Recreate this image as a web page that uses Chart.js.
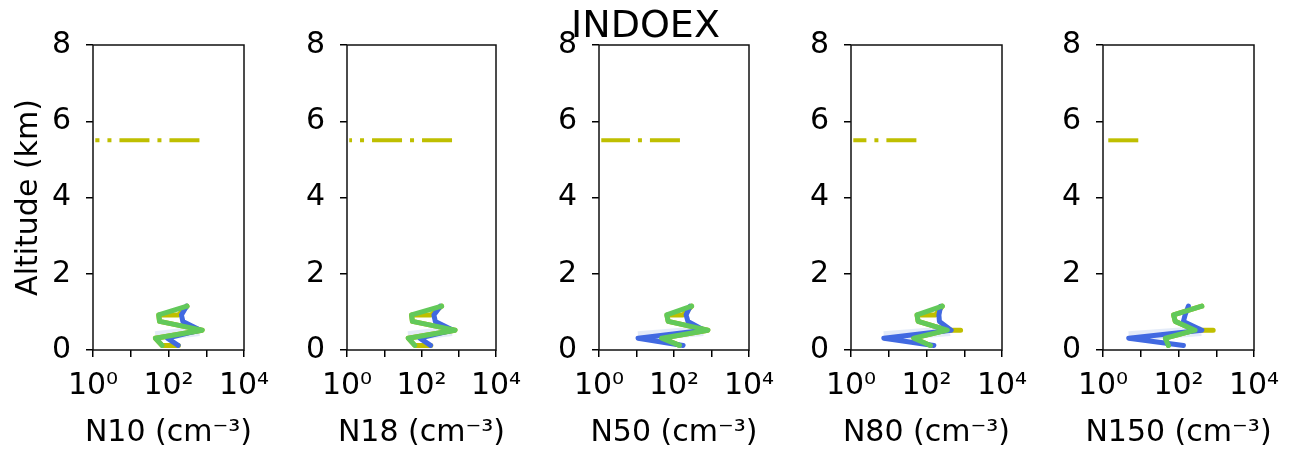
<!DOCTYPE html>
<html><head><meta charset="utf-8">
<script src="https://cdn.jsdelivr.net/npm/chart.js@4.4.1/dist/chart.umd.min.js"></script>
<style>
html,body{margin:0;padding:0;background:#fff;}
#wrap{position:relative;width:1291px;height:453px;overflow:hidden;background:#fff;}
#title{position:absolute;left:0;width:1291px;top:5px;text-align:center;font-family:"DejaVu Sans";font-size:38px;line-height:38px;color:#000;z-index:5;}
.xt{position:absolute;top:413px;width:300px;text-align:center;font-family:"DejaVu Sans";font-size:30px;line-height:36px;color:#000;white-space:nowrap;}
canvas{position:absolute;top:0;}
</style></head><body>
<div id="wrap"><div id="title">INDOEX</div></div>
<script>
// ---------- data ----------
const panelNames = ['N10', 'N18', 'N50', 'N80', 'N150'];
const xAxisTitles = ['N10 (cm⁻³)', 'N18 (cm⁻³)', 'N50 (cm⁻³)', 'N80 (cm⁻³)', 'N150 (cm⁻³)'];
const yAxisTitle = 'Altitude (km)';
const xTickValues = [1, 10, 100, 1000, 10000];
const xTickLabels = ['10⁰', '', '10²', '', '10⁴'];
const yTickValues = [0, 2, 4, 6, 8];

const profileAlt = [1.15, 0.92, 0.75, 0.52, 0.31, 0.12];
const yellowAlt = [1.15, 0.92, 0.92, 0.75, 0.52, 0.52, 0.52, 0.31, 0.12, 0.12];
const bandAlt = [0.36, 0.50];
const thresholdAlt = 5.5;
const thresholdLeft = 1.15;
const thresholdRight = [660, 660, 144, 54, 8.6];

const greenN10 = [310, 55, 58, 780, 45, 68];
const greenN18 = [347, 54, 57, 795, 44, 66];
const greenN50 = [295, 64, 70, 800, 47, 140];
const greenN80 = [263, 56, 60, 355, 46, 127];
const greenN150 = [415, 74, 82, 275, 45, 54];

const blueN10 = [300, 220, 240, 700, 93, 180];
const blueN18 = [320, 215, 235, 700, 90, 175];
const blueN50 = [270, 210, 235, 630, 11, 175];
const blueN80 = [236, 213, 220, 450, 7.4, 157];
const blueN150 = [183, 150, 135, 415, 4.8, 135];

const yellowN10 = [310, 183, 55, 58, 780, 780, 780, 45, 68, 183];
const yellowN18 = [347, 180, 54, 57, 795, 795, 795, 44, 66, 178];
const yellowN50 = [295, 174, 65, 70, 800, 800, 800, 47, 140, 140];
const yellowN80 = [263, 173, 56, 60, 355, 800, 355, 46, 127, 127];
const yellowN150 = [415, 74, 74, 82, 275, 830, 275, 45, 54, 54];

const bandN10 = [45, 650];
const bandN18 = [44, 650];
const bandN50 = [11, 600];
const bandN80 = [7.4, 420];
const bandN150 = [4.8, 400];

const greenSeries = [greenN10, greenN18, greenN50, greenN80, greenN150];
const blueSeries = [blueN10, blueN18, blueN50, blueN80, blueN150];
const yellowSeries = [yellowN10, yellowN18, yellowN50, yellowN80, yellowN150];
const bandSeries = [bandN10, bandN18, bandN50, bandN80, bandN150];

// ---------- layout ----------
const plotLeft = [93, 347, 599, 851, 1103];
const plotWidth = [151, 149, 150, 151, 151];
const AXW = 92, RPAD = 40, TOP = 45, H = 453, XAXH = 103;
const FONT = 'DejaVu Sans';

const framePlugin = {
  id: 'frame',
  afterDraw(chart) {
    const {ctx, chartArea: a} = chart;
    ctx.save();
    ctx.strokeStyle = '#111';
    ctx.lineWidth = 1.5;
    ctx.strokeRect(a.left, a.top, a.right - a.left, a.bottom - a.top);
    ctx.restore();
  }
};

function pts(alts, vals) { return vals.map((v, i) => ({x: v, y: alts[i]})); }

const wrap = document.getElementById('wrap');
panelNames.forEach((name, i) => {
  const cv = document.createElement('canvas');
  const w = AXW + plotWidth[i] + RPAD;
  cv.width = w; cv.height = H;
  cv.style.left = (plotLeft[i] - AXW) + 'px';
  cv.style.width = w + 'px'; cv.style.height = H + 'px';
  wrap.appendChild(cv);

  const xt = document.createElement('div');
  xt.className = 'xt';
  xt.textContent = xAxisTitles[i];
  xt.style.left = (plotLeft[i] + plotWidth[i] / 2 - 150) + 'px';
  wrap.appendChild(xt);

  const line = (data, color, width, order, extra) => Object.assign({
    data, borderColor: color, borderWidth: width, pointRadius: 0, fill: false,
    tension: 0, borderJoinStyle: 'round', borderCapStyle: 'round', order
  }, extra || {});

  const datasets = [
    line(pts(profileAlt, greenSeries[i]), '#62c95a', 5, 1),
    line(pts(profileAlt, blueSeries[i]), '#4169e1', 5, 2),
    line(pts(yellowAlt, yellowSeries[i]), '#bfbf00', 5, 3),
    line(pts(bandAlt, bandSeries[i]), 'rgba(130,165,225,0.22)', 10, 4, {borderCapStyle: 'butt'}),
    line([{x: thresholdRight[i], y: thresholdAlt}, {x: thresholdLeft, y: thresholdAlt}], '#bfbf00', 4, 5,
      {borderDash: [30, 8, 4, 8], borderCapStyle: 'butt'})
  ];

  new Chart(cv, {
    type: 'line',
    data: {datasets},
    options: {
      responsive: false, animation: false, events: [],
      layout: {padding: {left: 0, right: RPAD, top: TOP, bottom: 0}},
      plugins: {legend: {display: false}, tooltip: {enabled: false}, title: {display: false}},
      scales: {
        x: {
          type: 'logarithmic', min: 1, max: 10000, position: 'bottom',
          afterBuildTicks: s => { s.ticks = xTickValues.map(v => ({value: v})); },
          afterFit: s => { s.height = XAXH; },
          ticks: {autoSkip: false, maxRotation: 0, minRotation: 0, color: '#000',
            font: {family: FONT, size: 30}, padding: 11,
            callback: (v, idx) => xTickLabels[idx]},
          grid: {drawOnChartArea: false, drawTicks: true, tickLength: 7, color: '#000', lineWidth: 1.5},
          border: {display: false},
          title: {display: false}
        },
        y: {
          type: 'linear', min: 0, max: 8,
          afterBuildTicks: s => { s.ticks = yTickValues.map(v => ({value: v})); },
          afterFit: s => { s.width = AXW; },
          ticks: {color: '#000', font: {family: FONT, size: 30}, padding: 15},
          grid: {drawOnChartArea: false, drawTicks: true, tickLength: 7, color: '#000', lineWidth: 1.5},
          border: {display: false},
          title: {display: i === 0, text: yAxisTitle, color: '#000',
            font: {family: FONT, size: 30}, padding: {top: 10, bottom: 0}}
        }
      }
    },
    plugins: [framePlugin]
  });
});
</script>
</body></html>
